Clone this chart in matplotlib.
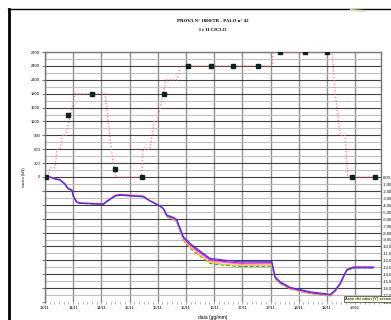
import numpy as np
import pandas as pd
import matplotlib
matplotlib.use('Agg')
import matplotlib.pyplot as plt
import matplotlib.dates as mdates
from matplotlib.lines import Line2D
from matplotlib.ticker import FixedLocator, FuncFormatter, MultipleLocator

plt.rcParams['font.family'] = ['Liberation Sans', 'DejaVu Sans']

start = pd.Timestamp('2006-11-13 12:00')

# carico applicato (kN), ore dall'inizio prova
load_h = [1.28, 2.13, 4.26, 5.11, 6.39, 7.45, 8.94, 10.22, 12.78, 25.55, 28.96, 30.24,
          41.10, 41.74, 44.72, 46.42, 47.70, 50.26, 51.53, 56.22, 57.50, 96.68, 97.10,
          122.23, 123.51, 125.64, 127.77, 128.83, 140.12]
load_kN = [0, 200, 200, 600, 600, 900, 900, 1200, 1800, 1800, 300, 0,
           0, 600, 600, 1200, 1200, 1800, 2100, 2100, 2400, 2400, 2700,
           2700, 1800, 900, 900, 0, 0]

# letture (quadrati)
read_h = [0.43, 9.67, 20.02, 29.68, 41.18, 50.55, 61.03, 70.57, 80.20, 90.72,
          100.09, 110.73, 120.23, 130.62, 140.25]
read_kN = [0, 1350, 1800, 180, 0, 1800, 2400, 2400, 2400, 2400, 2700, 2700, 2700, 0, 0]

# cedimenti (mm) dei comparatori
sett_h = [2.13, 4.26, 6.39, 8.52, 9.92, 11.37, 12.05, 13.50, 14.91, 24.83, 26.28, 29.81,
          31.94, 41.87, 44.72, 48.25, 50.38, 51.83, 54.64, 56.09, 57.50, 58.90, 61.75,
          66.01, 70.27, 75.94, 83.05, 96.55, 97.96, 100.09, 104.34, 112.86, 121.38,
          123.51, 125.64, 127.04, 128.49, 131.30, 139.82]
sett_green = [0, -0.30, -0.45, -1.05, -1.75, -1.90, -2.75, -3.65, -3.80, -3.95, -3.55, -2.75,
              -2.60, -2.85, -3.45, -4.05, -4.60, -5.75, -6.15, -6.55, -7.85, -9.15, -10.25,
              -11.40, -12.45, -12.70, -12.90, -12.85, -14.65, -15.35, -16.15, -16.80, -17.15,
              -16.50, -15.50, -14.50, -13.45, -13.10, -13.10]
sett_yellow = [0, -0.25, -0.40, -1.00, -1.70, -1.85, -2.70, -3.60, -3.75, -3.90, -3.45, -2.60,
               -2.45, -2.70, -3.40, -4.00, -4.55, -5.65, -6.05, -6.45, -7.75, -9.05, -10.10,
               -11.25, -12.30, -12.55, -12.75, -12.70, -14.60, -15.30, -16.10, -16.75, -17.10,
               -16.45, -15.45, -14.45, -13.40, -13.05, -13.05]
sett_pink = [0, -0.20, -0.35, -0.95, -1.65, -1.80, -2.65, -3.55, -3.70, -3.85, -3.45, -2.65,
             -2.50, -2.75, -3.40, -4.05, -4.60, -5.65, -6.00, -6.35, -7.65, -8.90, -9.90,
             -11.00, -12.05, -12.30, -12.55, -12.50, -14.55, -15.25, -16.05, -16.70, -17.05,
             -16.40, -15.40, -14.40, -13.35, -13.00, -13.00]
sett_magenta = [0, -0.25, -0.40, -1.00, -1.70, -1.85, -2.70, -3.60, -3.75, -3.90, -3.50, -2.70,
                -2.55, -2.80, -3.45, -4.05, -4.55, -5.55, -5.90, -6.20, -7.50, -8.75, -9.75,
                -10.85, -11.90, -12.15, -12.40, -12.35, -14.45, -15.20, -16.00, -16.65, -17.00,
                -16.35, -15.30, -14.30, -13.30, -12.95, -12.95]
sett_blue = [0, -0.29, -0.43, -1.05, -1.73, -1.87, -2.74, -3.65, -3.79, -3.93, -3.56, -2.74,
             -2.64, -2.84, -3.46, -4.03, -4.51, -5.48, -5.81, -6.10, -7.39, -8.60, -9.55,
             -10.66, -11.71, -11.96, -12.20, -12.20, -14.37, -15.09, -15.89, -16.53, -16.90,
             -16.28, -15.32, -14.37, -13.40, -13.07, -13.07]

left_ticks = list(range(-2700, 2701, 300))
right_ticks = list(range(-18, 19))


def to_date(h):
    return (start + pd.to_timedelta(np.array(h), unit='h')).to_pydatetime()


W, H = 391, 320
fig = plt.figure(figsize=(W / 100, H / 100), dpi=100)
ax = fig.add_axes([45 / W, 1 - 302 / H, (381 - 45) / W, (302 - 52) / H])
ax2 = ax.twinx()

# carico
ax.plot(to_date(load_h), load_kN, color='#ff7070', ls=':', lw=0.9, zorder=3)
ax.plot(to_date(read_h), read_kN, ls='none', marker='s', ms=2.4, color='#0a2222', zorder=4)
ax.set_ylim(-2700, 2700)
ax.yaxis.set_major_locator(FixedLocator(left_ticks))
ax.yaxis.set_major_formatter(FuncFormatter(lambda v, p: '%d' % v if v >= 0 else ''))
ax.yaxis.set_minor_locator(MultipleLocator(150))
ax.grid(True, which='major', axis='y', color='#404040', lw=0.8)
ax.grid(True, which='minor', axis='y', color='#bcbcbc', lw=0.8)

ax.set_xlim(to_date([0, 143]))
ax.xaxis.set_major_locator(mdates.HourLocator(byhour=[0, 12]))
ax.xaxis.set_major_formatter(mdates.DateFormatter('%d/%m'))
ax.xaxis.set_minor_locator(mdates.HourLocator(byhour=range(0, 24, 2)))
ax.grid(True, which='major', axis='x', color='#8f8f8f', lw=1.0)
ax.set_axisbelow(True)

ax.tick_params(axis='y', which='major', labelsize=3, length=2, width=0.6, color='#555555', pad=1.5)
ax.tick_params(axis='y', which='minor', length=0)
ax.tick_params(axis='x', which='major', labelsize=3, length=1.2, width=0.8, color='#999999', pad=1.8)
ax.tick_params(axis='x', which='minor', length=1.2, width=0.8, color='#aaaaaa')

for s in ['top', 'left', 'right']:
    ax.spines[s].set_color('#777777')
    ax.spines[s].set_linewidth(1.0)
ax.spines['bottom'].set_visible(False)

# cedimenti
t = to_date(sett_h)
ax2.plot(t, sett_green, color='#33aa33', lw=0.8, ls='--')
ax2.plot(t, sett_yellow, color='#ffcc00', lw=0.8)
ax2.plot(t, sett_pink, color='#ff77cc', lw=0.8)
ax2.plot(t, sett_magenta, color='#dd00dd', lw=0.8)
ax2.plot(t, sett_blue, color='#3333ff', lw=0.8)
ax2.set_ylim(-18, 18)
ax2.yaxis.set_major_locator(FixedLocator(right_ticks))
ax2.yaxis.set_major_formatter(FuncFormatter(
    lambda v, p: ('%.2f' % v).replace('.', ',') if v <= 0 else ''))
ax2.tick_params(axis='y', labelsize=3, length=0, pad=1.2)
for s in ax2.spines.values():
    s.set_visible(False)

ax.set_ylabel('carico (kN)', fontsize=3, labelpad=3.5)
fig.text(213 / W, 1 - 315.5 / H, 'data (gg/mm)', ha='center', va='top', fontsize=3.5)

fig.text(213 / W, 1 - 21 / H, 'PROVA N° 1800/TR - PALO n° 42', ha='center', va='center',
         fontsize=3.5, fontweight='bold', family='Liberation Serif')
fig.text(213 / W, 1 - 30 / H, 'I e II CICLO', ha='center', va='center',
         fontsize=3.5, fontweight='bold', family='Liberation Serif')

fig.text(345 / W, 1 - 299 / H, 'Asse dei valori (Y) secondario', ha='left', va='center',
         fontsize=3, bbox=dict(boxstyle='square,pad=0.3', fc='#ffffe1', ec='#333333', lw=0.5))

# cornice del grafico
fig.add_artist(Line2D([8 / W, 1], [1 - 9.3 / H, 1 - 9.3 / H], color='black', lw=1.0))
fig.add_artist(Line2D([9 / W, 9 / W], [0, 1 - 9.3 / H], color='black', lw=2.0))
fig.add_artist(Line2D([351 / W, 364 / W], [1 - 10 / H, 1 - 11 / H], color='#d8d8a0', lw=1.5))

fig.savefig('out.png', dpi=100)
